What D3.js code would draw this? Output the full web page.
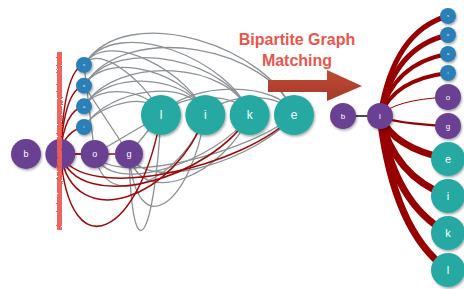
<!DOCTYPE html>
<html>
<head>
<meta charset="utf-8">
<script src="https://cdn.jsdelivr.net/npm/d3@7"></script>
<style>
  body { margin: 0; background: #fff; }
  svg { display: block; font-family: "Liberation Sans", Arial, sans-serif; }
</style>
</head>
<body>
<div id="graph"></div>
<script>
// ---- data ----
const purpleWord = ["b", "l", "o", "g"];      // bottom row, left graph
const blueWord = ["s", "e", "a", "i"];        // small nodes column
const tealWord = ["l", "i", "k", "e"];        // big nodes row

// left graph edges: [source, target, kind]
const grayEdges = [
  ["s0", "t3", "over"], ["s0", "t2", "over"], ["s0", "t1", "over"], ["s0", "t0", "over"],
  ["s1", "t3", "over"], ["s1", "t2", "over"], ["s1", "t1", "over"],
  ["s2", "t2", "over"], ["s2", "t1", "over"], ["s2", "t0", "over"],
  ["s3", "t1", "over"], ["s3", "t0", "over"],
  ["t0", "t2", "over"], ["t0", "t3", "over"], ["t1", "t3", "over"],
  ["p2", "t1", "under"], ["p2", "t2", "under"], ["p2", "t3", "under"],
  ["p3", "t0", "under"], ["p3", "t1", "under"], ["p3", "t2", "under"], ["p3", "t3", "under"],
  ["p2", "t0", "line"], ["p3", "t0", "line"], ["s0", "p2", "line"], ["s1", "p3", "line"]
];
const redEdges = [
  ["p1", "s0", "up"], ["p1", "s1", "up"], ["p1", "s2", "up"], ["p1", "s3", "up"],
  ["p1", "p2", "line"], ["p1", "p3", "line"],
  ["p1", "t0", "under"], ["p1", "t1", "under"], ["p1", "t2", "under"], ["p1", "t3", "under"]
];

// matching result: targets of the right "l" and their edge weights
const matchTargets = ["s0", "s1", "s2", "s3", "p2", "p3", "t3", "t1", "t2", "t0"];
const matchWeights = [5, 5, 4, 4, 1, 2, 7, 7, 7, 7];

const colors = { p: "#6b4192", s: "#2b7fb7", t: "#27a9a3" };
const labelOf = id => ({ p: purpleWord, s: blueWord, t: tealWord })[id[0]][+id.slice(1)];

// ---- svg ----
const W = 464, H = 289;
const svg = d3.select("#graph").append("svg").attr("width", W).attr("height", H);

const defs = svg.append("defs");
const sh = defs.append("filter").attr("id", "shadow")
  .attr("x", "-30%").attr("y", "-30%").attr("width", "160%").attr("height", "160%");
sh.append("feDropShadow").attr("dx", 1).attr("dy", 1.5).attr("stdDeviation", 1.2)
  .attr("flood-color", "#000").attr("flood-opacity", 0.35);
const rough = defs.append("filter").attr("id", "rough");
rough.append("feTurbulence").attr("type", "fractalNoise").attr("baseFrequency", 0.9).attr("numOctaves", 2).attr("result", "n");
rough.append("feDisplacementMap").attr("in", "SourceGraphic").attr("in2", "n").attr("scale", 2.5);
const ag = defs.append("linearGradient").attr("id", "arrowGrad").attr("x1", 0).attr("y1", 0).attr("x2", 0).attr("y2", 1);
ag.append("stop").attr("offset", "0%").attr("stop-color", "#c04a33");
ag.append("stop").attr("offset", "100%").attr("stop-color", "#a5392a");

// ---- left graph layout ----
const xPurple = d3.scalePoint().domain(d3.range(4)).range([26, 129]);
const yBlue = d3.scalePoint().domain(d3.range(4)).range([65, 127]);
const xTeal = d3.scalePoint().domain(d3.range(4)).range([161, 294]);

const leftNodes = {};
purpleWord.forEach((c, i) => leftNodes["p" + i] = { id: "p" + i, x: xPurple(i), y: 154, r: i < 2 ? 15 : 14 });
blueWord.forEach((c, i) => leftNodes["s" + i] = { id: "s" + i, x: 84, y: yBlue(i), r: 8 });
tealWord.forEach((c, i) => leftNodes["t" + i] = { id: "t" + i, x: xTeal(i), y: 115, r: 20 });

function edgePath(e, under) {
  const a = leftNodes[e[0]], b = leftNodes[e[1]], kind = e[2];
  const d = Math.abs(b.x - a.x);
  if (kind === "line") return `M${a.x},${a.y}L${b.x},${b.y}`;
  if (kind === "up") return `M${a.x},${a.y}Q${a.x + 4},${b.y + 4} ${b.x},${b.y}`;
  if (kind === "over") {
    const h = (e[0][0] === "t" ? 0.26 : 0.32) * d;
    return `M${a.x},${a.y}C${a.x + 0.2 * d},${a.y - h} ${b.x - 0.1 * d},${b.y - h} ${b.x},${b.y}`;
  }
  // under: deeper dips for closer nodes
  const h = Math.min(125, under / d);
  return `M${a.x},${a.y}C${a.x + 0.1 * d},${a.y + h} ${b.x - 0.2 * d},${b.y + h} ${b.x},${b.y}`;
}

const gLeft = svg.append("g");
gLeft.selectAll("path.gray").data(grayEdges).join("path")
  .attr("class", "gray")
  .attr("d", e => edgePath(e, 7000))
  .attr("fill", "none").attr("stroke", "#8c9195").attr("stroke-width", 1.3);
gLeft.selectAll("path.red").data(redEdges).join("path")
  .attr("class", "red")
  .attr("d", e => edgePath(e, 12000))
  .attr("fill", "none").attr("stroke", "#9e0a0a").attr("stroke-width", 1.5);

function drawNodes(g, nodes, fs) {
  const ng = g.selectAll("g.node").data(nodes).join("g")
    .attr("class", "node")
    .attr("transform", d => `translate(${d.x},${d.y})`);
  ng.append("circle").attr("r", d => d.r)
    .attr("fill", d => colors[d.id[0]])
    .attr("filter", "url(#shadow)");
  ng.append("text")
    .attr("text-anchor", "middle").attr("dy", "0.35em")
    .attr("fill", "#fff")
    .style("font-size", d => fs[d.id[0]] + "px")
    .text(d => labelOf(d.id));
}
drawNodes(gLeft, Object.values(leftNodes), { p: 9, s: 4, t: 12 });

// red cut line through "l"
svg.append("rect")
  .attr("x", 57).attr("y", 52).attr("width", 5).attr("height", 178)
  .attr("fill", "#ec5d57").attr("opacity", 0.95)
  .attr("filter", "url(#rough)");

// ---- title + arrow ----
svg.append("text").attr("x", 297).attr("y", 45).attr("text-anchor", "middle")
  .attr("fill", "#ea554d").style("font-size", "16px").style("font-weight", "bold")
  .text("Bipartite Graph");
svg.append("text").attr("x", 297).attr("y", 66).attr("text-anchor", "middle")
  .attr("fill", "#ea554d").style("font-size", "16px").style("font-weight", "bold")
  .text("Matching");
svg.append("path")
  .attr("d", "M268,80L327,80L327,70L362,86L327,101L327,92L268,92Z")
  .attr("fill", "url(#arrowGrad)");

// ---- right graph (matching) ----
const rb = { id: "p0", x: 343, y: 116, r: 13 };
const rl = { id: "p1", x: 380, y: 116, r: 13 };
const rRadius = { s: 8, p: 13, t: 17 };
const gap = 3;
const rightTargets = [];
matchTargets.forEach((id, i) => {
  const r = rRadius[id[0]];
  const prev = rightTargets[i - 1];
  const y = prev ? prev.y + prev.r + gap + r : 16;
  rightTargets.push({ id, x: 448, y, r, w: matchWeights[i] });
});

const gRight = svg.append("g");
gRight.append("line")
  .attr("x1", rb.x).attr("y1", rb.y).attr("x2", rl.x).attr("y2", rl.y)
  .attr("stroke", "#111").attr("stroke-width", 1.5);
gRight.selectAll("path.match").data(rightTargets).join("path")
  .attr("class", "match")
  .attr("d", d => {
    const dx = d.x - rl.x, dy = d.y - rl.y;
    const k = dy < 0 ? 0.85 : 0.75;
    return `M${rl.x},${rl.y}Q${rl.x + 0.2 * dx},${rl.y + k * dy} ${d.x},${d.y}`;
  })
  .attr("fill", "none").attr("stroke", "#960000")
  .attr("stroke-width", d => d.w);
drawNodes(gRight, [rb, rl, ...rightTargets], { p: 8, s: 4, t: 11 });
</script>
</body>
</html>
